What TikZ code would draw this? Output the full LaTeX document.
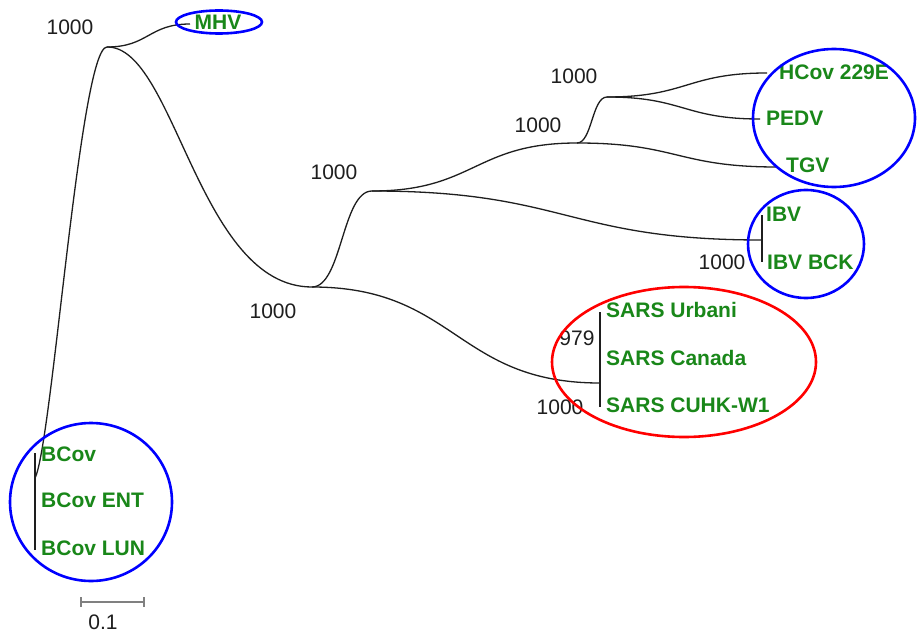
\documentclass[tikz,border=0pt]{standalone}
\usepackage{fontspec}
\setmainfont{Liberation Sans}
\usetikzlibrary{calc}
\definecolor{taxon}{RGB}{25,135,25}
\definecolor{ink}{RGB}{30,30,30}
\definecolor{ringblue}{RGB}{0,0,255}
\definecolor{ringred}{RGB}{255,0,0}
\tikzset{
  branch/.style={draw=ink, line width=1.3pt},
  taxonlabel/.style={anchor=west, inner sep=0pt, text height=15pt, text depth=0pt,
    font=\fontsize{21}{24}\selectfont\bfseries, text=taxon},
  bootstrap/.style={inner sep=0pt, text height=15pt, text depth=0pt,
    font=\fontsize{21}{24}\selectfont, text=ink},
  ring/.style={draw=ringblue, line width=2.6pt},
  redring/.style={draw=ringred, line width=2.6pt},
  scalebar/.style={draw=gray, line width=1.2pt}
}
% horizontal S-shaped branch between two named points
\newcommand\sbranch[2]{%
  \draw[branch] let \p1=(#1), \p2=(#2) in
    (\p1) .. controls ({0.5*\x1+0.5*\x2},\y1) and ({0.5*\x1+0.5*\x2},\y2) .. (\p2);}
\begin{document}
\begin{tikzpicture}[x=1pt,y=-1pt]
\useasboundingbox (0,0) rectangle (917,639);
\fill[white] (0,0) rectangle (917,639);

% internal nodes of the tree
\coordinate (root) at (107,47);
\coordinate (n1) at (312,287);
\coordinate (n2) at (372,191);
\coordinate (n3) at (577,143);
\coordinate (n4) at (607,97);
\coordinate (ibv) at (762,240);
\coordinate (sars) at (600,383);
\coordinate (bcov) at (35,478);

% leaf ends
\coordinate (mhv) at (190,24);
\coordinate (hcov) at (767,73);
\coordinate (pedv) at (760,119);
\coordinate (tgv) at (777,167);

% clade bars
\coordinate (ibvT) at (762,215);
\coordinate (ibvB) at (762,262);
\coordinate (sarsT) at (600,312);
\coordinate (sarsB) at (600,407);
\coordinate (bcovT) at (35,453);
\coordinate (bcovB) at (35,550);

% branches
\sbranch{root}{mhv}
\draw[branch] (root) .. controls (80,47) and (52,445) .. (bcov);
\draw[branch] (root) .. controls (175,46) and (198,287) .. (n1);
\sbranch{n1}{n2}
\sbranch{n1}{sars}
\sbranch{n2}{n3}
\sbranch{n2}{ibv}
\sbranch{n3}{n4}
\sbranch{n3}{tgv}
\sbranch{n4}{hcov}
\sbranch{n4}{pedv}
\draw[branch] (ibvT) -- (ibvB);
\draw[branch] (sarsT) -- (sarsB);
\draw[branch] (bcovT) -- (bcovB);

% taxa
\node[taxonlabel, anchor=center] (tMHV) at (218,22) {MHV};
\node[taxonlabel] (tHCov) at (779,72) {HCov 229E};
\node[taxonlabel] (tPEDV) at (766,118) {PEDV};
\node[taxonlabel] (tTGV) at (786,165) {TGV};
\node[taxonlabel] (tIBV) at (766,214) {IBV};
\node[taxonlabel] (tIBVB) at (767,262) {IBV BCK};
\node[taxonlabel] (tSU) at (606,310) {SARS Urbani};
\node[taxonlabel] (tSC) at (606,358) {SARS Canada};
\node[taxonlabel] (tSW) at (606,405) {SARS CUHK-W1};
\node[taxonlabel] (tB) at (41,454) {BCov};
\node[taxonlabel] (tBE) at (41,500) {BCov ENT};
\node[taxonlabel] (tBL) at (41,548) {BCov LUN};

% bootstrap values
\node[bootstrap] (b0) at (70,27) {1000};
\node[bootstrap] (b1) at (273,311) {1000};
\node[bootstrap] (b2) at (334,172) {1000};
\node[bootstrap] (b3) at (538,125) {1000};
\node[bootstrap] (b4) at (574,76) {1000};
\node[bootstrap] (b5) at (722,262) {1000};
\node[bootstrap] (b6) at (577,338) {979};
\node[bootstrap] (b7) at (560,407) {1000};

% clade rings
\draw[ring] (219,22) ellipse (43 and 11.5);
\draw[ring] (834,118) ellipse (81 and 69);
\draw[ring] (806,244) ellipse (58 and 54);
\draw[ring] (91,502) ellipse (81 and 79);
\draw[redring] (684,362) ellipse (132 and 75);

% scale bar
\coordinate (sbL) at (81,602);
\coordinate (sbR) at (144,602);
\draw[scalebar] (sbL) -- (sbR);
\draw[scalebar] ($(sbL)+(0,-5)$) -- ($(sbL)+(0,5)$);
\draw[scalebar] ($(sbR)+(0,-5)$) -- ($(sbR)+(0,5)$);
\node[bootstrap] (sbText) at (103,622) {0.1};
\end{tikzpicture}
\end{document}
